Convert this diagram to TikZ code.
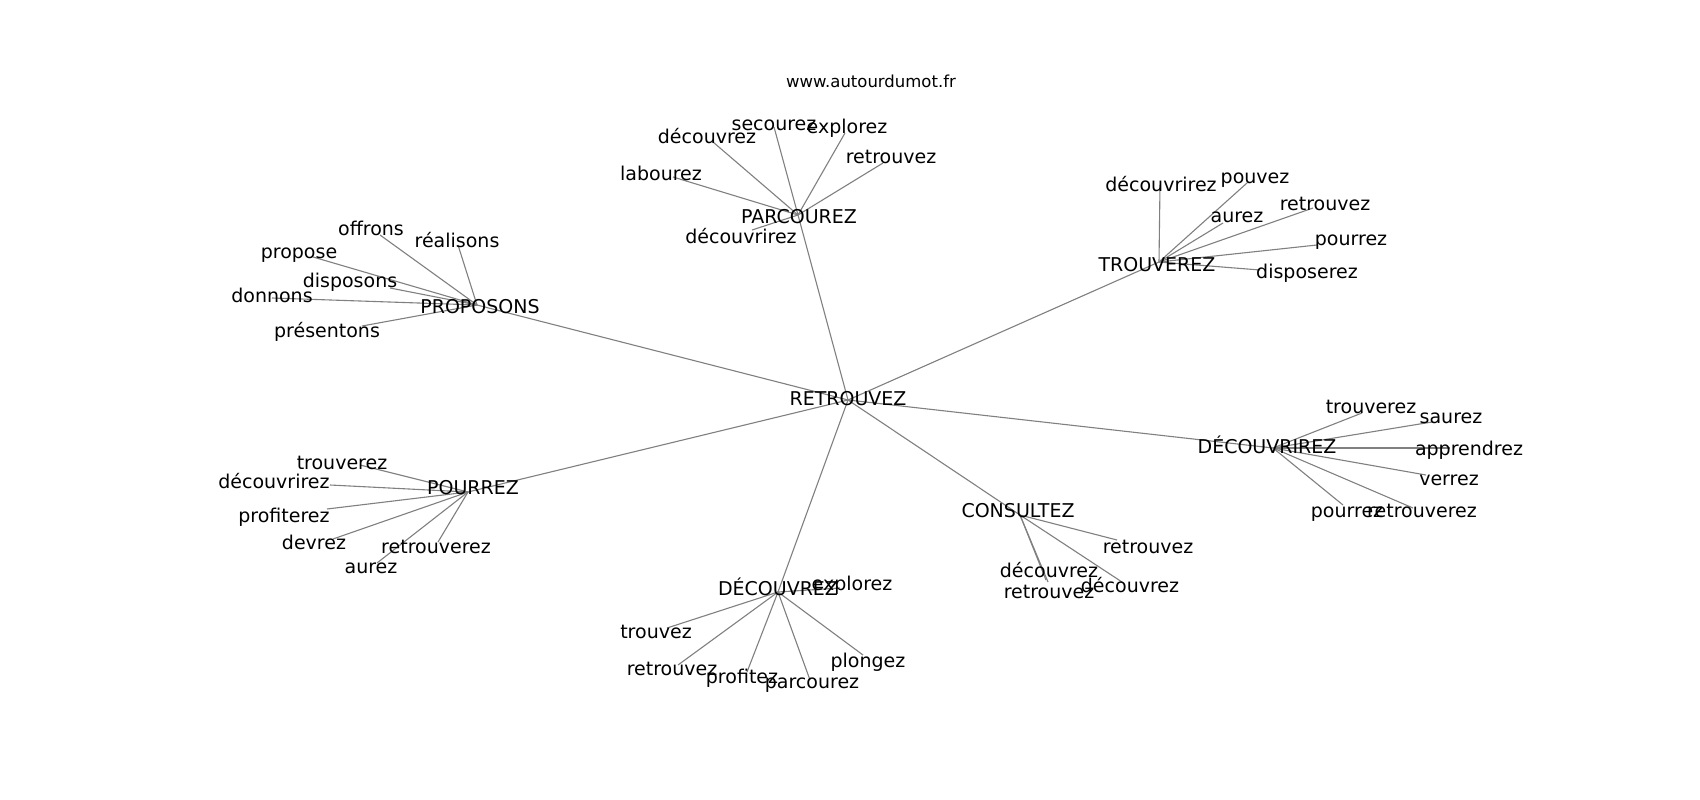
\documentclass[tikz,border=0pt]{standalone}
\usepackage{fontspec}
\setmainfont{DejaVu Sans}
\tikzset{
  lbl/.style={anchor=base, inner sep=0pt, font=\fontsize{19}{22}\selectfont, text=black},
  urlbl/.style={anchor=base, inner sep=0pt, font=\fontsize{16.5}{19}\selectfont, text=black},
  edge/.style={draw=gray, line width=1.1pt}
}
\begin{document}
\begin{tikzpicture}[x=1pt,y=-1pt]
\useasboundingbox[fill=white] (0,0) rectangle (1700,800);
% hub positions
\coordinate (rc) at (848,400);
\coordinate (parc) at (798,215);
\coordinate (proc) at (477,305);
\coordinate (troc) at (1159,262);
\coordinate (dric) at (1273,448);
\coordinate (pouc) at (468,492);
\coordinate (dezc) at (778,592);
\coordinate (conc) at (1020,515);
% leaf positions
\coordinate (pa1) at (774,127);
\coordinate (pa2) at (845,133);
\coordinate (pa3) at (713,142);
\coordinate (pa4) at (673,177);
\coordinate (pa5) at (883,163);
\coordinate (pa6) at (752,230);
\coordinate (pr1) at (380,235);
\coordinate (pr2) at (458,245);
\coordinate (pr3) at (313,257);
\coordinate (pr4) at (390,288);
\coordinate (pr5) at (272,298);
\coordinate (pr6) at (362,326);
\coordinate (tr1) at (1160,185);
\coordinate (tr2) at (1247,183);
\coordinate (tr3) at (1223,223);
\coordinate (tr4) at (1313,208);
\coordinate (tr5) at (1317,245);
\coordinate (tr6) at (1260,270);
\coordinate (dr1) at (1362,413);
\coordinate (dr2) at (1432,422);
\coordinate (dr3) at (1450,448);
\coordinate (dr4) at (1426,475);
\coordinate (dr5) at (1343,505);
\coordinate (dr6) at (1413,508);
\coordinate (po1) at (360,465);
\coordinate (po2) at (330,485);
\coordinate (po3) at (327,509);
\coordinate (po4) at (333,539);
\coordinate (po5) at (438,542);
\coordinate (po6) at (377,563);
\coordinate (de1) at (840,588);
\coordinate (de2) at (667,628);
\coordinate (de3) at (678,665);
\coordinate (de4) at (747,672);
\coordinate (de5) at (810,680);
\coordinate (de6) at (863,655);
\coordinate (co1) at (1117,540);
\coordinate (co2) at (1048,582);
\coordinate (co3) at (1046,580);
\coordinate (co4) at (1122,582);
% edges
\foreach \h in {parc,proc,troc,dric,pouc,dezc,conc} \draw[edge] (rc) -- (\h);
\foreach \l in {pa1,pa2,pa3,pa4,pa5,pa6} \draw[edge] (parc) -- (\l);
\foreach \l in {pr1,pr2,pr3,pr4,pr5,pr6} \draw[edge] (proc) -- (\l);
\foreach \l in {tr1,tr2,tr3,tr4,tr5,tr6} \draw[edge] (troc) -- (\l);
\foreach \l in {dr1,dr2,dr3,dr4,dr5,dr6} \draw[edge] (dric) -- (\l);
\foreach \l in {po1,po2,po3,po4,po5,po6} \draw[edge] (pouc) -- (\l);
\foreach \l in {de1,de2,de3,de4,de5,de6} \draw[edge] (dezc) -- (\l);
\foreach \l in {co1,co2,co3,co4} \draw[edge] (conc) -- (\l);
% labels
\node[urlbl] (url) at (871,88) {www.autourdumot.fr};
\node[lbl] (rl) at (848,405) {RETROUVEZ};
\node[lbl] (parl) at (799,223) {PARCOUREZ};
\node[lbl] (pa1l) at (774,130) {secourez};
\node[lbl] (pa2l) at (847,133) {explorez};
\node[lbl] (pa3l) at (707,143) {découvrez};
\node[lbl] (pa4l) at (661,180) {labourez};
\node[lbl] (pa5l) at (891,163) {retrouvez};
\node[lbl] (pa6l) at (741,243) {découvrirez};
\node[lbl] (prol) at (480,313) {PROPOSONS};
\node[lbl] (pr1l) at (371,235) {offrons};
\node[lbl] (pr2l) at (457,247) {réalisons};
\node[lbl] (pr3l) at (299,258) {propose};
\node[lbl] (pr4l) at (350,287) {disposons};
\node[lbl] (pr5l) at (272,302) {donnons};
\node[lbl] (pr6l) at (327,337) {présentons};
\node[lbl] (trol) at (1157,271) {TROUVEREZ};
\node[lbl] (tr1l) at (1161,191) {découvrirez};
\node[lbl] (tr2l) at (1255,183) {pouvez};
\node[lbl] (tr3l) at (1237,222) {aurez};
\node[lbl] (tr4l) at (1325,210) {retrouvez};
\node[lbl] (tr5l) at (1351,245) {pourrez};
\node[lbl] (tr6l) at (1307,278) {disposerez};
\node[lbl] (dril) at (1267,453) {DÉCOUVRIREZ};
\node[lbl] (dr1l) at (1371,413) {trouverez};
\node[lbl] (dr2l) at (1451,423) {saurez};
\node[lbl] (dr3l) at (1469,455) {apprendrez};
\node[lbl] (dr4l) at (1449,485) {verrez};
\node[lbl] (dr5l) at (1347,517) {pourrez};
\node[lbl] (dr6l) at (1422,517) {retrouverez};
\node[lbl] (poul) at (473,494) {POURREZ};
\node[lbl] (po1l) at (342,469) {trouverez};
\node[lbl] (po2l) at (274,488) {découvrirez};
\node[lbl] (po3l) at (284,522) {profiterez};
\node[lbl] (po4l) at (314,549) {devrez};
\node[lbl] (po5l) at (436,553) {retrouverez};
\node[lbl] (po6l) at (371,573) {aurez};
\node[lbl] (dezl) at (778,595) {DÉCOUVREZ};
\node[lbl] (de1l) at (852,590) {explorez};
\node[lbl] (de2l) at (656,638) {trouvez};
\node[lbl] (de3l) at (672,675) {retrouvez};
\node[lbl] (de4l) at (742,683) {profitez};
\node[lbl] (de5l) at (812,688) {parcourez};
\node[lbl] (de6l) at (868,667) {plongez};
\node[lbl] (conl) at (1018,517) {CONSULTEZ};
\node[lbl] (co1l) at (1148,553) {retrouvez};
\node[lbl] (co2l) at (1049,577) {découvrez};
\node[lbl] (co3l) at (1049,598) {retrouvez};
\node[lbl] (co4l) at (1130,592) {découvrez};
\end{tikzpicture}
\end{document}
